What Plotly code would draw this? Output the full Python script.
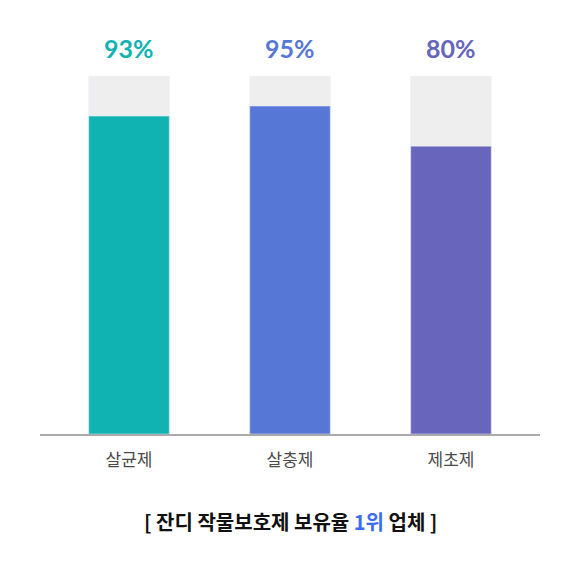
import plotly.graph_objects as go

categories = ["살균제", "살충제", "제초제"]
bar_values = [88.8, 91.6, 80.4]
label_texts = ["93%", "95%", "80%"]
track_values = [100, 100, 100]
bar_colors = ["#10b3b1", "#5677d6", "#6765bc"]

fig = go.Figure()
fig.add_trace(go.Bar(x=categories, y=track_values, marker_color="#eeeeee",
                     width=0.5, hoverinfo="skip", showlegend=False))
fig.add_trace(go.Bar(x=categories, y=bar_values, marker_color=bar_colors,
                     width=0.5, showlegend=False))

for c, t, col in zip(categories, label_texts, bar_colors):
    fig.add_annotation(x=c, y=100, text=t, showarrow=False, yanchor="bottom",
                       yshift=11, font=dict(family="Lato", size=25, color=col, weight="bold"))

fig.add_annotation(xref="paper", yref="paper", x=0.5, y=-0.2458, yanchor="middle",
                   showarrow=False,
                   text="[ 잔디 작물보호제 보유율 <span style='color:#3a6cf4'>1위</span> 업체 ]",
                   font=dict(family="Noto Sans CJK KR", size=20, color="#111111", weight="bold"))

fig.update_layout(
    barmode="overlay",
    width=580, height=580,
    margin=dict(l=32, r=48, t=68, b=154),
    paper_bgcolor="white", plot_bgcolor="white",
    xaxis=dict(range=[-0.553, 2.553], showline=True, linecolor="#aaaaaa", linewidth=2,
               showgrid=False, zeroline=False, ticks="", ticklabelstandoff=10,
               tickfont=dict(family="Noto Sans CJK KR", size=17, color="#4a4a4a")),
    yaxis=dict(range=[0, 100], visible=False, showgrid=False, zeroline=False),
)

fig.write_html("out.html")
